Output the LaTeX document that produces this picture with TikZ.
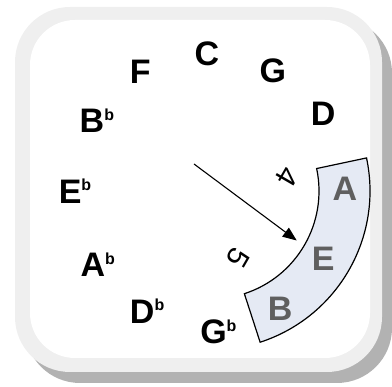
\documentclass[tikz,border=0pt]{standalone}
\usepackage{fontspec}
\setmainfont{Liberation Sans}
\usetikzlibrary{arrows.meta,calc,positioning}
\definecolor{framegray}{RGB}{239,239,239}
\definecolor{shadowgray}{RGB}{178,178,178}
\definecolor{bandfill}{RGB}{229,234,244}
\definecolor{bandtext}{RGB}{95,95,95}
\newcommand{\flatnote}[1]{#1\raisebox{12.5pt}{\fontsize{16}{16}\selectfont b}}
\tikzset{
  note/.style={font=\fontsize{34}{34}\selectfont\bfseries, inner sep=0pt},
  bandnote/.style={note, text=bandtext},
  interval/.style={font=\fontsize{30}{30}\selectfont, inner sep=0pt, rotate=-120},
}
\begin{document}
\begin{tikzpicture}[x=1pt,y=1pt]
  \useasboundingbox (0,0) rectangle (392,387);
  % Frame with shadow
  \fill[shadowgray,rounded corners=55pt] (25,4) rectangle (392,369);
  \fill[framegray,rounded corners=55pt] (15,15) rectangle (382,380);
  \fill[white,rounded corners=45pt] (30,29) rectangle (370,367);
  % Define points
  \coordinate (O) at (211,196);
  \coordinate (hand) at (194,223);
  \coordinate (tip) at ($(O)+(-30:99)$);
  % Highlighted band
  \draw[line width=1.2pt,fill=bandfill] ($(O)+(12:108)$) -- ++(12:51)
    arc[start angle=12,end angle=-72,radius=159] -- ++(-72:-51)
    arc[start angle=-72,end angle=12,radius=108] -- cycle;
  % Notes round the circle
  \foreach \name/\ang/\r/\txt in {C/91.7/137/C, G/62.7/135/G, D/34.5/136/D,
      Gb/-87/141/\flatnote{G}, Db/-118/136/\flatnote{D},
      Ab/-147/135/\flatnote{A}, Eb/180/136/\flatnote{E},
      Bb/148.4/134/\flatnote{B}, F/120.6/139/F}
    \node[note] (\name) at ($(O)+(\ang:\r)$) {\txt};
  \foreach \name/\ang/\r in {A/0.9/134, E/-31/131, B/-59.7/137}
    \node[bandnote] (\name) at ($(O)+(\ang:\r)$) {\name};
  % Interval labels
  \node[interval] (four) at (287,210) {4};
  \node[interval] (five) at (238,129) {5};
  % Pointer
  \draw[line width=1.1pt,-{Triangle[length=14pt,width=11pt]}] (hand) -- (tip);
\end{tikzpicture}
\end{document}
